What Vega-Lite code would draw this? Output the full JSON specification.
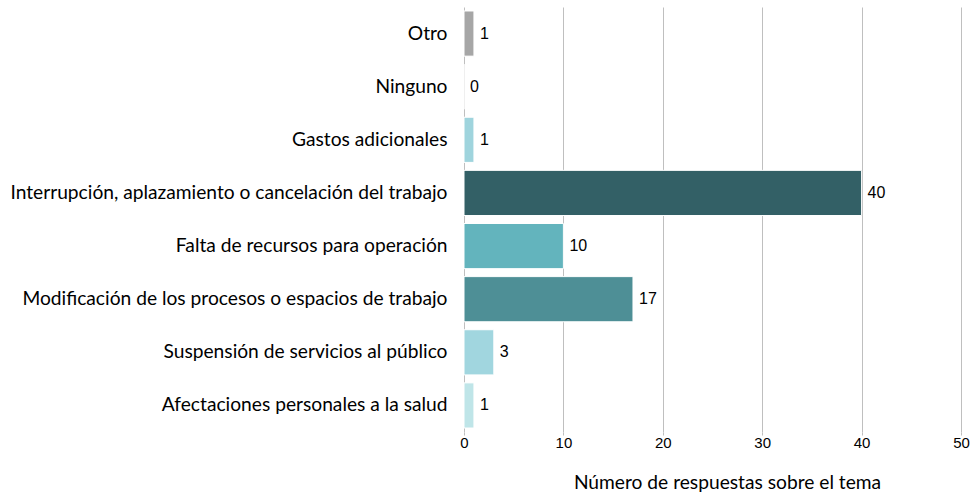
{
  "$schema": "https://vega.github.io/schema/vega-lite/v6.json",
  "autosize": {"type": "none"},
  "padding": {"left": 464, "top": 7, "right": 10, "bottom": 62},
  "width": 497,
  "height": 425,
  "background": "white",
  "config": {"view": {"stroke": null}},
  "data": {
    "values": [
      {"categoria": "Otro", "respuestas": 1},
      {"categoria": "Ninguno", "respuestas": 0},
      {"categoria": "Gastos adicionales", "respuestas": 1},
      {"categoria": "Interrupción, aplazamiento o cancelación del trabajo", "respuestas": 40},
      {"categoria": "Falta de recursos para operación", "respuestas": 10},
      {"categoria": "Modificación de los procesos o espacios de trabajo", "respuestas": 17},
      {"categoria": "Suspensión de servicios al público", "respuestas": 3},
      {"categoria": "Afectaciones personales a la salud", "respuestas": 1}
    ]
  },
  "encoding": {
    "y": {
      "field": "categoria",
      "type": "nominal",
      "sort": null,
      "scale": {"paddingInner": 0.15, "paddingOuter": 0.075},
      "axis": {
        "title": null,
        "domain": false,
        "ticks": false,
        "labelFont": "Lato",
        "labelFontSize": 19.2,
        "labelColor": "#000000",
        "labelPadding": 17,
        "labelLimit": 500
      }
    },
    "x": {
      "field": "respuestas",
      "type": "quantitative",
      "scale": {"domain": [0, 50]},
      "axis": {
        "title": "Número de respuestas sobre el tema",
        "titleFont": "Lato",
        "titleFontSize": 19.2,
        "titleFontWeight": "normal",
        "titleColor": "#000000",
        "titlePadding": 23,
        "titleX": 263,
        "values": [0, 10, 20, 30, 40, 50],
        "grid": true,
        "gridColor": "#bfbfbf",
        "gridWidth": 1,
        "domain": false,
        "ticks": true,
        "tickColor": "#bfbfbf",
        "tickSize": 3,
        "labelFont": "Liberation Sans",
        "labelFontSize": 15,
        "labelColor": "#000000",
        "labelPadding": 0,
        "labelFlush": false
      }
    }
  },
  "layer": [
    {
      "mark": {"type": "bar", "stroke": "white", "strokeWidth": 1},
      "encoding": {
        "color": {
          "field": "categoria",
          "type": "nominal",
          "legend": null,
          "scale": {
            "domain": [
              "Otro",
              "Ninguno",
              "Gastos adicionales",
              "Interrupción, aplazamiento o cancelación del trabajo",
              "Falta de recursos para operación",
              "Modificación de los procesos o espacios de trabajo",
              "Suspensión de servicios al público",
              "Afectaciones personales a la salud"
            ],
            "range": ["#a6a6a6", "#dcdcdc", "#9fd4dd", "#336066", "#63b4bd", "#4e8f96", "#a1d6df", "#bfe5e8"]
          }
        }
      }
    },
    {
      "mark": {"type": "text", "align": "left", "baseline": "middle", "dx": 6, "font": "Liberation Sans", "fontSize": 16, "color": "#000000"},
      "encoding": {"text": {"field": "respuestas", "type": "quantitative"}}
    }
  ]
}
